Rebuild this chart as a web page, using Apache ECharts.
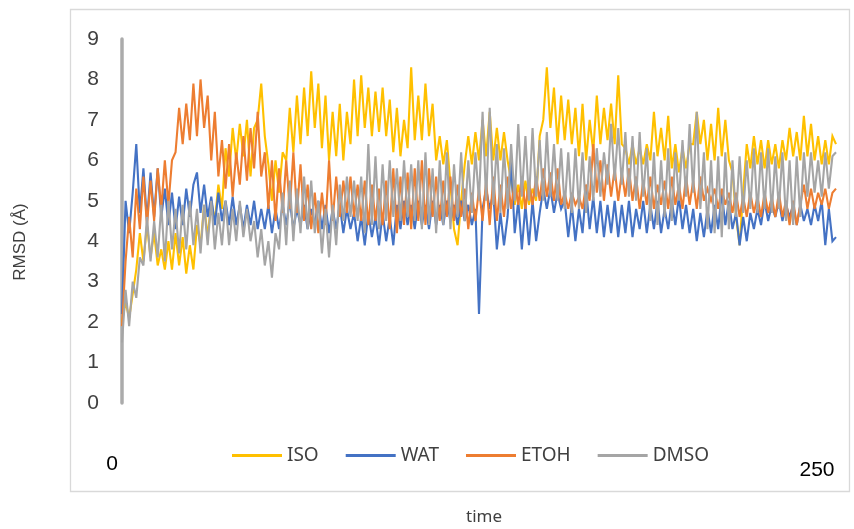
<!DOCTYPE html>
<html>
<head>
<meta charset="utf-8">
<script src="https://cdn.jsdelivr.net/npm/echarts@6/dist/echarts.min.js"></script>
<style>html,body{margin:0;padding:0;background:#fff}#c{width:854px;height:529px}</style>
</head>
<body>
<div id="c"></div>
<script>
var times = [
0,1.25,2.5,3.75,5,6.25,7.5,8.75,
10,11.25,12.5,13.75,15,16.25,17.5,18.75,
20,21.25,22.5,23.75,25,26.25,27.5,28.75,
30,31.25,32.5,33.75,35,36.25,37.5,38.75,
40,41.25,42.5,43.75,45,46.25,47.5,48.75,
50,51.25,52.5,53.75,55,56.25,57.5,58.75,
60,61.25,62.5,63.75,65,66.25,67.5,68.75,
70,71.25,72.5,73.75,75,76.25,77.5,78.75,
80,81.25,82.5,83.75,85,86.25,87.5,88.75,
90,91.25,92.5,93.75,95,96.25,97.5,98.75,
100,101.25,102.5,103.75,105,106.25,107.5,108.75,
110,111.25,112.5,113.75,115,116.25,117.5,118.75,
120,121.25,122.5,123.75,125,126.25,127.5,128.75,
130,131.25,132.5,133.75,135,136.25,137.5,138.75,
140,141.25,142.5,143.75,145,146.25,147.5,148.75,
150,151.25,152.5,153.75,155,156.25,157.5,158.75,
160,161.25,162.5,163.75,165,166.25,167.5,168.75,
170,171.25,172.5,173.75,175,176.25,177.5,178.75,
180,181.25,182.5,183.75,185,186.25,187.5,188.75,
190,191.25,192.5,193.75,195,196.25,197.5,198.75,
200,201.25,202.5,203.75,205,206.25,207.5,208.75,
210,211.25,212.5,213.75,215,216.25,217.5,218.75,
220,221.25,222.5,223.75,225,226.25,227.5,228.75,
230,231.25,232.5,233.75,235,236.25,237.5,238.75,
240,241.25,242.5,243.75,245,246.25,247.5,248.75,
250];

var iso = [
2.0,2.5,2.1,2.7,3.3,4.2,3.5,4.4,3.6,4.2,
3.4,3.8,3.3,4.0,3.3,4.2,3.4,4.1,3.2,3.9,
3.3,4.4,3.9,4.9,4.1,5.0,4.5,5.4,4.8,6.3,
5.6,6.8,6.0,6.9,6.1,7.0,5.6,6.8,7.0,7.9,
6.6,5.9,5.0,6.0,5.2,6.2,6.0,7.3,6.2,7.6,
6.4,7.8,6.6,8.2,6.8,7.9,6.3,7.6,6.0,7.2,
6.1,7.4,6.0,7.2,6.4,8.0,6.6,8.1,6.8,7.8,
6.6,7.7,6.7,7.8,6.6,7.5,6.2,7.3,6.1,7.0,
6.3,8.3,6.5,7.6,6.5,7.9,6.6,7.4,6.0,6.6,
5.9,6.5,5.4,4.3,3.9,5.0,5.9,6.6,5.9,6.7,
6.0,7.0,6.1,7.2,6.0,6.8,6.0,6.7,6.0,5.5,
4.9,5.4,4.8,5.5,4.9,5.3,5.0,6.6,7.0,8.3,
6.8,7.8,6.4,7.6,6.5,7.5,6.4,7.3,6.1,7.4,
6.0,7.0,6.2,7.6,6.4,7.3,6.5,7.4,6.4,8.1,
6.4,6.3,5.9,6.4,5.9,6.3,5.9,6.4,6.0,7.2,
6.1,6.8,6.0,7.1,5.8,6.4,5.7,6.3,5.8,6.4,
6.4,7.2,6.4,7.0,6.0,6.9,6.0,7.3,6.1,7.0,
6.0,5.7,4.6,3.9,5.2,6.4,5.8,6.6,5.9,6.5,
5.8,6.5,5.9,6.4,5.8,6.5,6.0,6.8,6.1,6.7,
6.0,7.1,6.1,6.9,6.0,6.6,5.9,6.5,5.9,6.6,
6.4];

var wat = [
2.2,5.0,4.2,5.2,6.4,4.7,5.8,4.5,5.7,4.6,
5.8,4.6,5.3,4.4,5.2,4.3,5.1,4.4,5.3,4.6,
5.4,5.7,4.7,5.4,4.6,5.1,4.4,5.2,4.5,5.0,
4.4,5.1,4.4,4.9,4.3,4.9,4.4,5.0,4.3,4.8,
4.3,4.9,4.2,4.8,4.3,4.9,4.4,5.0,4.3,4.8,
4.4,4.9,4.3,4.8,4.4,5.0,4.3,4.9,4.2,4.8,
4.3,4.9,4.2,4.8,4.3,4.7,4.0,4.6,3.9,4.7,
4.1,4.6,3.9,4.7,4.0,4.6,3.9,4.9,4.3,5.0,
4.4,4.9,4.3,5.0,4.4,4.9,4.3,5.0,4.4,4.9,
4.4,5.0,4.5,4.9,4.4,5.0,4.5,4.9,4.4,4.8,
2.2,4.8,5.3,4.8,5.2,3.8,4.7,3.9,4.6,6.0,
4.2,5.0,3.8,4.9,3.9,5.0,4.0,4.7,5.3,4.8,
5.3,4.7,5.2,4.8,5.0,4.1,4.9,4.0,4.8,4.2,
5.3,4.3,5.1,4.2,5.0,4.1,4.9,4.2,5.0,4.1,
4.9,4.2,5.0,4.1,4.8,4.3,5.0,4.2,4.9,4.3,
5.0,4.2,4.8,4.3,5.0,4.4,5.1,4.3,4.9,4.2,
4.8,4.0,4.7,4.1,4.8,4.2,4.9,4.3,5.2,4.4,
5.0,4.3,4.7,3.9,4.6,4.0,4.7,4.3,4.8,4.4,
5.0,4.5,4.9,4.6,5.0,4.5,4.9,4.6,4.9,4.4,
4.9,4.5,4.8,4.4,4.9,4.5,5.0,3.9,4.8,4.0,
4.1];

var etoh = [
1.9,3.5,4.6,3.6,5.3,4.3,5.6,4.4,5.5,4.5,
5.8,4.8,6.0,4.9,6.0,6.2,7.3,6.4,7.4,6.5,
7.9,6.6,8.0,6.8,7.6,6.0,7.2,5.6,6.5,5.3,
6.4,5.1,6.2,5.4,6.6,5.5,6.8,5.8,7.2,5.6,
6.2,4.8,6.0,4.5,5.8,4.7,6.0,4.8,6.2,4.7,
5.9,4.5,5.4,4.3,5.2,4.2,5.2,4.4,6.0,4.5,
5.6,4.6,5.5,4.7,5.6,4.6,5.4,4.5,5.5,4.4,
5.4,4.5,5.3,4.4,5.5,4.3,5.8,4.2,5.6,4.4,
5.7,4.3,5.8,4.5,6.0,4.4,5.8,4.6,5.6,4.5,
5.5,4.6,5.6,4.5,5.4,4.6,5.3,4.3,5.2,4.5,
5.3,4.5,5.5,4.4,5.6,4.5,5.4,4.6,5.6,4.8,
5.5,4.9,5.6,4.8,5.5,4.9,5.6,5.0,5.8,5.1,
5.7,5.0,5.8,4.9,5.2,4.8,5.2,4.9,5.1,4.8,
5.4,5.0,6.4,5.2,6.0,5.0,5.9,5.1,5.8,5.0,
5.7,5.1,5.8,5.0,5.6,4.8,5.5,4.9,5.6,4.8,
5.4,4.9,5.5,4.8,5.6,4.9,5.4,4.8,5.6,4.9,
5.5,4.8,5.6,5.0,5.3,5.0,5.3,4.8,5.3,4.9,
5.2,4.7,5.2,4.6,5.1,4.6,5.2,4.7,5.1,4.6,
5.2,4.7,5.1,4.6,5.2,4.6,5.0,4.4,5.0,4.4,
4.9,5.4,4.8,5.3,4.8,5.2,4.9,5.3,4.8,5.2,
5.3];

var dmso = [
1.5,2.8,1.9,3.0,2.6,3.6,3.4,4.6,3.5,4.5,
3.6,4.9,3.5,5.0,3.8,4.8,3.7,4.9,3.8,5.0,
3.9,4.8,3.7,4.9,3.9,5.0,3.8,4.7,3.9,5.0,
3.9,4.8,4.0,5.0,4.1,4.8,4.0,4.5,3.6,4.3,
3.4,4.0,3.1,4.2,3.8,5.2,3.9,5.5,4.0,5.3,
4.2,5.6,4.3,5.5,4.2,5.0,3.7,4.8,3.6,4.9,
3.9,5.4,4.5,5.6,4.6,5.5,4.5,5.6,4.2,6.4,
4.4,6.1,4.3,5.9,4.5,6.0,4.6,5.8,4.5,6.0,
4.6,5.9,4.5,6.0,4.3,6.2,4.4,5.8,4.2,6.0,
4.4,6.2,4.3,5.9,4.6,6.2,4.5,6.0,4.7,6.2,
5.0,7.2,5.0,7.3,4.9,6.4,4.7,6.3,4.8,6.4,
5.0,6.9,5.1,6.6,5.0,6.8,5.1,6.5,5.0,6.7,
5.1,6.4,5.0,6.3,4.8,6.2,4.7,6.3,4.8,6.2,
4.7,6.1,5.0,6.3,5.1,6.2,5.4,6.9,5.5,6.8,
5.4,6.7,5.1,6.6,5.0,6.7,5.1,6.3,4.5,6.2,
4.4,6.0,4.6,6.3,4.5,6.2,5.0,6.5,5.1,6.9,
5.2,7.2,4.8,6.2,4.3,6.0,4.2,6.1,4.1,6.2,
4.3,6.0,4.6,6.1,4.7,6.0,4.8,6.3,4.7,6.2,
4.8,6.3,4.7,6.1,4.8,6.2,4.5,6.0,4.4,6.1,
4.6,6.2,5.1,6.2,5.2,6.0,5.1,6.2,5.3,6.1,
6.2];

var seriesNames = ['ISO','WAT','ETOH','DMSO'];
var seriesColors = ['#FFC000','#4472C4','#ED7D31','#A5A5A5'];
var seriesData = [iso, wat, etoh, dmso];
var yTicks = [0,1,2,3,4,5,6,7,8,9];
var xEndLabels = ['0','250'];
var yTitle = 'RMSD (Å)';
var xTitle = 'time';

var chart = echarts.init(document.getElementById('c'), null, {renderer:'canvas'});
var series = seriesNames.map(function(n,i){
  return {
    name:n, type:'line', data:seriesData[i], showSymbol:false, symbol:'none',
    lineStyle:{width:2.1,color:seriesColors[i],join:'miter',miterLimit:4}, itemStyle:{color:seriesColors[i]},
    animation:false, z:2+i
  };
});
chart.setOption({
  animation:false,
  backgroundColor:'#ffffff',
  grid:{left:122,right:18,top:39,bottom:126,containLabel:false,outerBoundsMode:'none'},
  xAxis:{type:'category',data:times,boundaryGap:false,
    axisLine:{show:false},axisTick:{show:false},axisLabel:{show:false},splitLine:{show:false}},
  yAxis:{type:'value',min:0,max:9,interval:1,
    axisLine:{show:true,lineStyle:{color:'#ABABAB',width:3.5}},
    axisTick:{show:false},splitLine:{show:false},
    axisLabel:{margin:23,fontFamily:'Liberation Sans',fontSize:21,color:'#404040',
      formatter:function(v){return yTicks.indexOf(v)>=0?String(v):'';}}},
  legend:{data:seriesNames,left:232,top:446,padding:0,itemWidth:50,itemHeight:3,icon:'rect',itemGap:27,
    textStyle:{fontFamily:'Noto Sans',fontSize:19,color:'#404040'}},
  graphic:[
    {type:'rect',shape:{x:70.5,y:9.5,width:779,height:482},style:{fill:'none',stroke:'#D9D9D9',lineWidth:1.3},z:0,silent:true},
    {type:'text',x:112,y:464,style:{text:xEndLabels[0],font:'21px "Liberation Sans"',fill:'#000000',align:'center',verticalAlign:'middle'}},
    {type:'text',x:817,y:470,style:{text:xEndLabels[1],font:'21px "Liberation Sans"',fill:'#000000',align:'center',verticalAlign:'middle'}},
    {type:'text',x:20,y:242,rotation:Math.PI/2,style:{text:yTitle,font:'17px "Liberation Sans"',fill:'#404040',align:'center',verticalAlign:'middle'}},
    {type:'text',x:484,y:517,style:{text:xTitle,font:'17px "Noto Sans"',fill:'#404040',align:'center',verticalAlign:'middle'}}
  ],
  series:series
});
</script>
</body>
</html>
